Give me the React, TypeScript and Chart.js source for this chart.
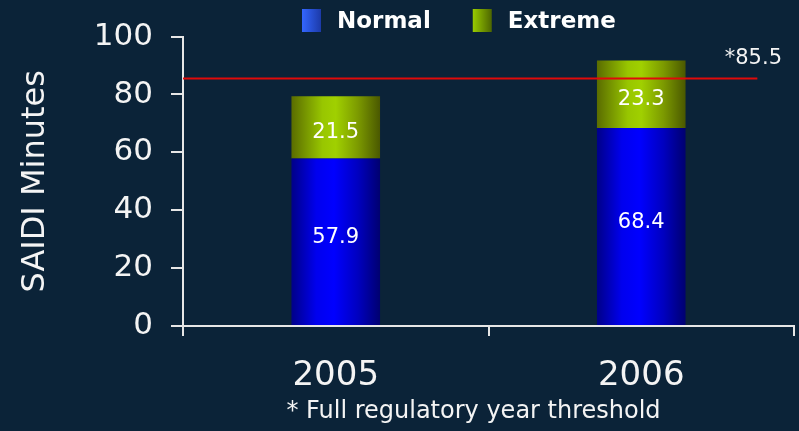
import React, { useEffect, useRef } from "react";
import { Chart, registerables } from "chart.js";

Chart.register(...registerables);

// Chart data
const categories = ["2005", "2006"];
const normalValues = [57.9, 68.4];
const extremeValues = [21.5, 23.3];
const seriesNames = ["Normal", "Extreme"];
const thresholdValue = 85.5;
const thresholdLabel = "*85.5";
const footnote = "* Full regulatory year threshold";
const yTitle = "SAIDI Minutes";

// Styling
const BG = "#0b2338";
const TEXT = "#f4f4f4";
const AXIS = "#e6e6e6";
const FONT = "'DejaVu Sans', Verdana, sans-serif";
const BAR_FRACTION = 0.29;

const blueStops: [number, string][] = [
  [0, "#000088"],
  [0.28, "#0000ee"],
  [0.48, "#0000ff"],
  [0.75, "#0000c0"],
  [1, "#000070"],
];
const greenStops: [number, string][] = [
  [0, "#5a6c00"],
  [0.35, "#98c600"],
  [0.5, "#a0d000"],
  [0.75, "#7c9a00"],
  [1, "#4a5800"],
];
const legendStops: [number, string][][] = [
  [
    [0, "#3366ff"],
    [1, "#1c3aa8"],
  ],
  [
    [0, "#99cc00"],
    [1, "#4d6600"],
  ],
];
// vertical nudge of value labels per series
const labelNudge = [-4, 5];

function barGradient(stops: [number, string][]) {
  return (context: any) => {
    const chart = context.chart;
    const xs = chart.scales?.x;
    if (!chart.chartArea || !xs) return stops[1][1];
    const center = xs.getPixelForValue(context.dataIndex);
    const half = ((xs.width / categories.length) * BAR_FRACTION) / 2;
    const g = chart.ctx.createLinearGradient(center - half, 0, center + half, 0);
    stops.forEach(([o, c]) => g.addColorStop(o, c));
    return g;
  };
}

const backgroundPlugin = {
  id: "pageBackground",
  beforeDraw(chart: any) {
    const { ctx, width, height } = chart;
    ctx.save();
    ctx.fillStyle = BG;
    ctx.fillRect(0, 0, width, height);
    ctx.restore();
  },
};

const overlayPlugin = {
  id: "overlay",
  afterDatasetsDraw(chart: any) {
    const { ctx, chartArea, scales } = chart;
    ctx.save();

    // segment value labels
    ctx.fillStyle = "#ffffff";
    ctx.font = `21px ${FONT}`;
    ctx.textAlign = "center";
    ctx.textBaseline = "middle";
    chart.data.datasets.forEach((ds: any, di: number) => {
      const meta = chart.getDatasetMeta(di);
      meta.data.forEach((bar: any, i: number) => {
        const v = ds.data[i];
        ctx.fillText(v.toFixed(1), bar.x, (bar.y + bar.base) / 2 + labelNudge[di]);
      });
    });

    // threshold line
    const ty = scales.y.getPixelForValue(thresholdValue);
    const x0 = chartArea.left;
    const x1 = chartArea.left + (chartArea.right - chartArea.left) * 0.94;
    ctx.strokeStyle = "#e00a0a";
    ctx.lineWidth = 2;
    ctx.beginPath();
    ctx.moveTo(x0, ty);
    ctx.lineTo(x1, ty);
    ctx.stroke();
    ctx.fillStyle = TEXT;
    ctx.font = `21px ${FONT}`;
    ctx.textAlign = "right";
    ctx.textBaseline = "middle";
    ctx.fillText(thresholdLabel, chartArea.right - 12, ty - 20);
    ctx.restore();
  },
  afterDraw(chart: any) {
    const { ctx, chartArea } = chart;
    ctx.save();

    // legend
    ctx.font = `bold 23px ${FONT}`;
    ctx.textBaseline = "middle";
    ctx.textAlign = "left";
    let x = chartArea.left + 119;
    const cy = 21;
    seriesNames.forEach((name, i) => {
      const g = ctx.createLinearGradient(x, 0, x + 19, 0);
      legendStops[i].forEach(([o, c]) => g.addColorStop(o, c));
      ctx.fillStyle = g;
      ctx.fillRect(x, cy - 12, 19, 23);
      ctx.fillStyle = "#ffffff";
      ctx.fillText(name, x + 35, cy + 1);
      x += 35 + ctx.measureText(name).width + 42;
    });

    // footnote
    ctx.font = `24px ${FONT}`;
    ctx.fillStyle = TEXT;
    ctx.textAlign = "center";
    ctx.fillText(footnote, (chartArea.left + chartArea.right) / 2 - 15, 412);
    ctx.restore();
  },
};

export default function App() {
  const ref = useRef<HTMLCanvasElement>(null);

  useEffect(() => {
    document.body.style.margin = "0";
    const canvas = ref.current;
    if (!canvas) return;
    const chart = new Chart(canvas, {
      type: "bar",
      data: {
        labels: categories,
        datasets: [
          {
            label: seriesNames[0],
            data: normalValues,
            backgroundColor: barGradient(blueStops),
            borderWidth: 0,
            barPercentage: BAR_FRACTION,
            categoryPercentage: 1,
          },
          {
            label: seriesNames[1],
            data: extremeValues,
            backgroundColor: barGradient(greenStops),
            borderWidth: 0,
            barPercentage: BAR_FRACTION,
            categoryPercentage: 1,
          },
        ],
      },
      options: {
        responsive: false,
        animation: false,
        layout: { padding: { top: 36, right: 5, left: 0, bottom: 0 } },
        plugins: {
          legend: { display: false },
          tooltip: { enabled: false },
        },
        scales: {
          x: {
            stacked: true,
            grid: {
              display: true,
              drawOnChartArea: false,
              drawTicks: true,
              tickLength: 10,
              color: AXIS,
              lineWidth: 2,
              offset: true,
            },
            border: { display: true, color: AXIS, width: 2 },
            ticks: {
              color: TEXT,
              font: { family: FONT, size: 34 },
              padding: 20,
            },
            afterFit: (s: any) => {
              s.height = 105;
            },
          },
          y: {
            stacked: true,
            min: 0,
            max: 100,
            ticks: {
              stepSize: 20,
              color: TEXT,
              font: { family: FONT, size: 31 },
              padding: 18,
            },
            grid: {
              drawOnChartArea: false,
              drawTicks: true,
              tickLength: 12,
              color: AXIS,
              lineWidth: 2,
            },
            border: { display: true, color: AXIS, width: 2 },
            title: {
              display: true,
              text: yTitle,
              color: TEXT,
              font: { family: FONT, size: 32 },
              padding: { top: 16, bottom: 0 },
            },
            afterFit: (s: any) => {
              s.width = 183;
            },
          },
        },
      },
      plugins: [backgroundPlugin, overlayPlugin],
    });
    return () => chart.destroy();
  }, []);

  return (
    <div style={{ width: 799, height: 431, background: BG }}>
      <canvas ref={ref} width={799} height={431} style={{ display: "block" }} />
    </div>
  );
}
